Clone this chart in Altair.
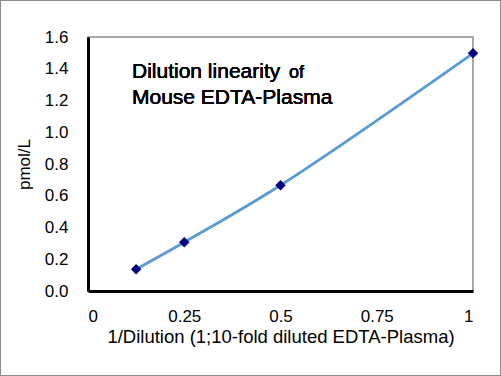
import altair as alt
import pandas as pd

dilution = [0.125, 0.25, 0.5, 1.0]
pmol = [0.137, 0.307, 0.666, 1.497]
x_ticks = [0, 0.25, 0.5, 0.75, 1]
y_ticks = [0.0, 0.2, 0.4, 0.6, 0.8, 1.0, 1.2, 1.4, 1.6]

df = pd.DataFrame({"x": dilution, "y": pmol})
FONT = "Liberation Sans"

x_enc = alt.X("x:Q", scale=alt.Scale(domain=[0, 1], nice=False),
              axis=alt.Axis(values=x_ticks, labelExpr="'' + datum.value", labelOverlap=False,
                            grid=False, ticks=False, tickSize=0,
                            domainColor="black", domainWidth=3, labelPadding=17,
                            labelFontSize=17, labelColor="black", labelFont=FONT,
                            title="1/Dilution (1;10-fold diluted EDTA-Plasma)",
                            titleFontSize=18.5, titleFont=FONT, titleFontWeight="normal",
                            titleColor="black", titlePadding=3))
y_enc = alt.Y("y:Q", scale=alt.Scale(domain=[0, 1.6], nice=False),
              axis=alt.Axis(values=y_ticks, format=".1f", labelOverlap=False,
                            grid=False, ticks=False, tickSize=0,
                            domainColor="black", domainWidth=3, labelPadding=20,
                            labelFontSize=17, labelColor="black", labelFont=FONT,
                            title="pmol/L", titleFontSize=17, titleFont=FONT,
                            titleFontWeight="normal", titleColor="black", titlePadding=11))

base = alt.Chart(df).encode(x=x_enc, y=y_enc)
line = base.mark_line(color="#5B9BD5", strokeWidth=2.8, interpolate="catmull-rom")
pts = base.mark_point(shape="diamond", filled=True, color="#000080", size=110, opacity=1)

ann1 = alt.Chart(df).mark_text(text="Dilution linearity", align="left", baseline="middle",
                               fontSize=21, font=FONT, color="black").encode(
    x=alt.value(44), y=alt.value(35))
ann1b = alt.Chart(df).mark_text(text="of", align="left", baseline="middle",
                                fontSize=18, font=FONT, color="black").encode(
    x=alt.value(201), y=alt.value(36))
ann2 = alt.Chart(df).mark_text(text="Mouse EDTA-Plasma", align="left", baseline="middle",
                               fontSize=21, font=FONT, color="black").encode(
    x=alt.value(44), y=alt.value(61))

border = alt.Chart(df).mark_rect(fill=None, stroke="#8c8c8c", strokeWidth=1).encode(
    x=alt.value(-87.5), x2=alt.value(412.5), y=alt.value(-36.5), y2=alt.value(338.5))

chart = alt.layer(line, pts, ann1, ann1b, ann2, border).properties(
    width=385, height=254,
    autosize=alt.AutoSizeParams(type="none"),
    padding={"left": 88, "top": 37, "right": 28, "bottom": 85},
    background="white",
).configure_view(stroke="#8c8c8c", strokeWidth=1.5).configure_axis(labelOverlap=False)

chart.save("out.html", embed_options={"renderer": "svg", "actions": False})
